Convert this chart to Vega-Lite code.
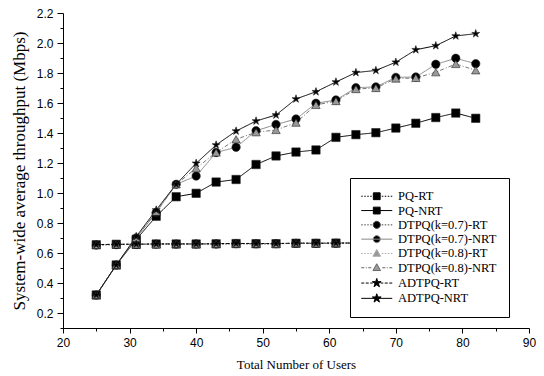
{
  "$schema": "https://vega.github.io/schema/vega-lite/v6.json",
  "width": 466,
  "height": 315,
  "autosize": {"type": "none"},
  "padding": {"left": 63, "top": 13, "right": 15, "bottom": 48},
  "background": "white",
  "config": {
    "view": {"stroke": null},
    "axis": {"grid": false, "domainColor": "#000", "tickColor": "#000", "labelColor": "#000", "titleColor": "#000", "labelFont": "Liberation Sans", "labelFontSize": 12, "titleFont": "Liberation Serif", "titleFontWeight": "normal", "domainWidth": 1, "tickWidth": 1}
  },
  "data": {"values": [
    {"s":"PQ-RT","x":25,"y":0.655},{"s":"PQ-RT","x":28,"y":0.658},{"s":"PQ-RT","x":31,"y":0.658},{"s":"PQ-RT","x":34,"y":0.66},{"s":"PQ-RT","x":37,"y":0.66},{"s":"PQ-RT","x":40,"y":0.66},{"s":"PQ-RT","x":43,"y":0.661},{"s":"PQ-RT","x":46,"y":0.663},{"s":"PQ-RT","x":49,"y":0.662},{"s":"PQ-RT","x":52,"y":0.662},{"s":"PQ-RT","x":55,"y":0.665},{"s":"PQ-RT","x":58,"y":0.665},{"s":"PQ-RT","x":61,"y":0.666},{"s":"PQ-RT","x":64,"y":0.666},{"s":"PQ-RT","x":67,"y":0.667},{"s":"PQ-RT","x":70,"y":0.667},{"s":"PQ-RT","x":73,"y":0.668},{"s":"PQ-RT","x":76,"y":0.668},{"s":"PQ-RT","x":79,"y":0.669},{"s":"PQ-RT","x":82,"y":0.669},
    {"s":"PQ-NRT","x":25,"y":0.32},{"s":"PQ-NRT","x":28,"y":0.52},{"s":"PQ-NRT","x":31,"y":0.69},{"s":"PQ-NRT","x":34,"y":0.845},{"s":"PQ-NRT","x":37,"y":0.975},{"s":"PQ-NRT","x":40,"y":0.998},{"s":"PQ-NRT","x":43,"y":1.073},{"s":"PQ-NRT","x":46,"y":1.09},{"s":"PQ-NRT","x":49,"y":1.19},{"s":"PQ-NRT","x":52,"y":1.247},{"s":"PQ-NRT","x":55,"y":1.273},{"s":"PQ-NRT","x":58,"y":1.287},{"s":"PQ-NRT","x":61,"y":1.371},{"s":"PQ-NRT","x":64,"y":1.389},{"s":"PQ-NRT","x":67,"y":1.402},{"s":"PQ-NRT","x":70,"y":1.433},{"s":"PQ-NRT","x":73,"y":1.465},{"s":"PQ-NRT","x":76,"y":1.503},{"s":"PQ-NRT","x":79,"y":1.533},{"s":"PQ-NRT","x":82,"y":1.498},
    {"s":"DTPQ(k=0.7)-RT","x":25,"y":0.653},{"s":"DTPQ(k=0.7)-RT","x":28,"y":0.656},{"s":"DTPQ(k=0.7)-RT","x":31,"y":0.657},{"s":"DTPQ(k=0.7)-RT","x":34,"y":0.659},{"s":"DTPQ(k=0.7)-RT","x":37,"y":0.659},{"s":"DTPQ(k=0.7)-RT","x":40,"y":0.66},{"s":"DTPQ(k=0.7)-RT","x":43,"y":0.66},{"s":"DTPQ(k=0.7)-RT","x":46,"y":0.662},{"s":"DTPQ(k=0.7)-RT","x":49,"y":0.661},{"s":"DTPQ(k=0.7)-RT","x":52,"y":0.662},{"s":"DTPQ(k=0.7)-RT","x":55,"y":0.664},{"s":"DTPQ(k=0.7)-RT","x":58,"y":0.664},{"s":"DTPQ(k=0.7)-RT","x":61,"y":0.665},{"s":"DTPQ(k=0.7)-RT","x":64,"y":0.665},{"s":"DTPQ(k=0.7)-RT","x":67,"y":0.666},{"s":"DTPQ(k=0.7)-RT","x":70,"y":0.666},{"s":"DTPQ(k=0.7)-RT","x":73,"y":0.667},{"s":"DTPQ(k=0.7)-RT","x":76,"y":0.667},{"s":"DTPQ(k=0.7)-RT","x":79,"y":0.668},{"s":"DTPQ(k=0.7)-RT","x":82,"y":0.668},
    {"s":"DTPQ(k=0.7)-NRT","x":25,"y":0.32},{"s":"DTPQ(k=0.7)-NRT","x":28,"y":0.52},{"s":"DTPQ(k=0.7)-NRT","x":31,"y":0.70},{"s":"DTPQ(k=0.7)-NRT","x":34,"y":0.87},{"s":"DTPQ(k=0.7)-NRT","x":37,"y":1.058},{"s":"DTPQ(k=0.7)-NRT","x":40,"y":1.113},{"s":"DTPQ(k=0.7)-NRT","x":43,"y":1.27},{"s":"DTPQ(k=0.7)-NRT","x":46,"y":1.305},{"s":"DTPQ(k=0.7)-NRT","x":49,"y":1.415},{"s":"DTPQ(k=0.7)-NRT","x":52,"y":1.457},{"s":"DTPQ(k=0.7)-NRT","x":55,"y":1.493},{"s":"DTPQ(k=0.7)-NRT","x":58,"y":1.598},{"s":"DTPQ(k=0.7)-NRT","x":61,"y":1.62},{"s":"DTPQ(k=0.7)-NRT","x":64,"y":1.702},{"s":"DTPQ(k=0.7)-NRT","x":67,"y":1.707},{"s":"DTPQ(k=0.7)-NRT","x":70,"y":1.771},{"s":"DTPQ(k=0.7)-NRT","x":73,"y":1.773},{"s":"DTPQ(k=0.7)-NRT","x":76,"y":1.858},{"s":"DTPQ(k=0.7)-NRT","x":79,"y":1.898},{"s":"DTPQ(k=0.7)-NRT","x":82,"y":1.862},
    {"s":"DTPQ(k=0.8)-RT","x":25,"y":0.654},{"s":"DTPQ(k=0.8)-RT","x":28,"y":0.657},{"s":"DTPQ(k=0.8)-RT","x":31,"y":0.657},{"s":"DTPQ(k=0.8)-RT","x":34,"y":0.658},{"s":"DTPQ(k=0.8)-RT","x":37,"y":0.66},{"s":"DTPQ(k=0.8)-RT","x":40,"y":0.659},{"s":"DTPQ(k=0.8)-RT","x":43,"y":0.661},{"s":"DTPQ(k=0.8)-RT","x":46,"y":0.663},{"s":"DTPQ(k=0.8)-RT","x":49,"y":0.662},{"s":"DTPQ(k=0.8)-RT","x":52,"y":0.661},{"s":"DTPQ(k=0.8)-RT","x":55,"y":0.665},{"s":"DTPQ(k=0.8)-RT","x":58,"y":0.664},{"s":"DTPQ(k=0.8)-RT","x":61,"y":0.665},{"s":"DTPQ(k=0.8)-RT","x":64,"y":0.666},{"s":"DTPQ(k=0.8)-RT","x":67,"y":0.666},{"s":"DTPQ(k=0.8)-RT","x":70,"y":0.667},{"s":"DTPQ(k=0.8)-RT","x":73,"y":0.667},{"s":"DTPQ(k=0.8)-RT","x":76,"y":0.668},{"s":"DTPQ(k=0.8)-RT","x":79,"y":0.668},{"s":"DTPQ(k=0.8)-RT","x":82,"y":0.669},
    {"s":"DTPQ(k=0.8)-NRT","x":25,"y":0.32},{"s":"DTPQ(k=0.8)-NRT","x":28,"y":0.52},{"s":"DTPQ(k=0.8)-NRT","x":31,"y":0.70},{"s":"DTPQ(k=0.8)-NRT","x":34,"y":0.875},{"s":"DTPQ(k=0.8)-NRT","x":37,"y":1.058},{"s":"DTPQ(k=0.8)-NRT","x":40,"y":1.165},{"s":"DTPQ(k=0.8)-NRT","x":43,"y":1.27},{"s":"DTPQ(k=0.8)-NRT","x":46,"y":1.358},{"s":"DTPQ(k=0.8)-NRT","x":49,"y":1.405},{"s":"DTPQ(k=0.8)-NRT","x":52,"y":1.42},{"s":"DTPQ(k=0.8)-NRT","x":55,"y":1.469},{"s":"DTPQ(k=0.8)-NRT","x":58,"y":1.587},{"s":"DTPQ(k=0.8)-NRT","x":61,"y":1.613},{"s":"DTPQ(k=0.8)-NRT","x":64,"y":1.693},{"s":"DTPQ(k=0.8)-NRT","x":67,"y":1.70},{"s":"DTPQ(k=0.8)-NRT","x":70,"y":1.763},{"s":"DTPQ(k=0.8)-NRT","x":73,"y":1.767},{"s":"DTPQ(k=0.8)-NRT","x":76,"y":1.805},{"s":"DTPQ(k=0.8)-NRT","x":79,"y":1.86},{"s":"DTPQ(k=0.8)-NRT","x":82,"y":1.818},
    {"s":"ADTPQ-RT","x":25,"y":0.656},{"s":"ADTPQ-RT","x":28,"y":0.658},{"s":"ADTPQ-RT","x":31,"y":0.659},{"s":"ADTPQ-RT","x":34,"y":0.66},{"s":"ADTPQ-RT","x":37,"y":0.661},{"s":"ADTPQ-RT","x":40,"y":0.66},{"s":"ADTPQ-RT","x":43,"y":0.662},{"s":"ADTPQ-RT","x":46,"y":0.664},{"s":"ADTPQ-RT","x":49,"y":0.663},{"s":"ADTPQ-RT","x":52,"y":0.663},{"s":"ADTPQ-RT","x":55,"y":0.666},{"s":"ADTPQ-RT","x":58,"y":0.665},{"s":"ADTPQ-RT","x":61,"y":0.666},{"s":"ADTPQ-RT","x":64,"y":0.667},{"s":"ADTPQ-RT","x":67,"y":0.667},{"s":"ADTPQ-RT","x":70,"y":0.668},{"s":"ADTPQ-RT","x":73,"y":0.668},{"s":"ADTPQ-RT","x":76,"y":0.669},{"s":"ADTPQ-RT","x":79,"y":0.669},{"s":"ADTPQ-RT","x":82,"y":0.67},
    {"s":"ADTPQ-NRT","x":25,"y":0.32},{"s":"ADTPQ-NRT","x":28,"y":0.52},{"s":"ADTPQ-NRT","x":31,"y":0.71},{"s":"ADTPQ-NRT","x":34,"y":0.887},{"s":"ADTPQ-NRT","x":37,"y":1.058},{"s":"ADTPQ-NRT","x":40,"y":1.198},{"s":"ADTPQ-NRT","x":43,"y":1.32},{"s":"ADTPQ-NRT","x":46,"y":1.413},{"s":"ADTPQ-NRT","x":49,"y":1.48},{"s":"ADTPQ-NRT","x":52,"y":1.52},{"s":"ADTPQ-NRT","x":55,"y":1.627},{"s":"ADTPQ-NRT","x":58,"y":1.675},{"s":"ADTPQ-NRT","x":61,"y":1.74},{"s":"ADTPQ-NRT","x":64,"y":1.803},{"s":"ADTPQ-NRT","x":67,"y":1.817},{"s":"ADTPQ-NRT","x":70,"y":1.872},{"s":"ADTPQ-NRT","x":73,"y":1.955},{"s":"ADTPQ-NRT","x":76,"y":1.982},{"s":"ADTPQ-NRT","x":79,"y":2.047},{"s":"ADTPQ-NRT","x":82,"y":2.062}
  ]},
  "encoding": {
    "x": {"field": "x", "type": "quantitative", "title": "Total Number of Users",
      "scale": {"domain": [20, 90], "nice": false, "zero": false},
      "axis": {"values": [20,25,30,35,40,45,50,55,60,65,70,75,80,85,90], "labelExpr": "datum.value % 10 == 0 ? format(datum.value, 'd') : ''", "tickSize": {"condition": {"test": "datum.value % 10 == 5", "value": 3}, "value": 5}, "labelPadding": 4, "titleFontSize": 13, "titlePadding": 10, "labelFlush": false, "labelOverlap": false}},
    "y": {"field": "y", "type": "quantitative", "title": "System-wide average throughput (Mbps)",
      "scale": {"domain": [0.1, 2.2], "nice": false, "zero": false},
      "axis": {"values": [0.1,0.2,0.3,0.4,0.5,0.6,0.7,0.8,0.9,1.0,1.1,1.2,1.3,1.4,1.5,1.6,1.7,1.8,1.9,2.0,2.1,2.2], "labelExpr": "round(datum.value*10) % 2 == 0 ? format(datum.value, '.1f') : ''", "tickSize": {"condition": {"test": "round(datum.value*10) % 2 == 1", "value": 3}, "value": 6}, "labelPadding": 4, "titleFontSize": 17, "titlePadding": 8, "labelFlush": false, "labelOverlap": false}}
  },
  "resolve": {"scale": {"shape": "independent", "fill": "independent", "stroke": "independent", "size": "independent", "strokeDash": "independent"}},
  "layer": [
    {
      "mark": {"type": "line", "strokeWidth": 1},
      "encoding": {
        "stroke": {"field": "s", "type": "nominal", "legend": null,
          "scale": {"domain": ["ADTPQ-NRT","ADTPQ-RT","DTPQ(k=0.8)-NRT","DTPQ(k=0.8)-RT","DTPQ(k=0.7)-NRT","DTPQ(k=0.7)-RT","PQ-NRT","PQ-RT"],
                    "range": ["#000000","#000000","#777777","#aaaaaa","#888888","#444444","#000000","#000000"]}},
        "strokeDash": {"field": "s", "type": "nominal", "legend": null,
          "scale": {"domain": ["ADTPQ-NRT","ADTPQ-RT","DTPQ(k=0.8)-NRT","DTPQ(k=0.8)-RT","DTPQ(k=0.7)-NRT","DTPQ(k=0.7)-RT","PQ-NRT","PQ-RT"],
                    "range": [[1,0],[3,2],[4,2,1,2],[1,2],[1,0],[1.5,1.5],[1,0],[1.5,1.5]]}}
      }
    },
    {
      "mark": {"type": "point", "filled": true, "opacity": 1, "stroke": "#222222", "strokeWidth": 0.6},
      "encoding": {
        "shape": {"field": "s", "type": "nominal", "legend": null,
          "scale": {"domain": ["ADTPQ-NRT","ADTPQ-RT","DTPQ(k=0.8)-NRT","DTPQ(k=0.8)-RT","DTPQ(k=0.7)-NRT","DTPQ(k=0.7)-RT","PQ-NRT","PQ-RT"],
                    "range": ["M0,-1L0.2245,-0.309L0.9511,-0.309L0.3633,0.118L0.5878,0.809L0,0.382L-0.5878,0.809L-0.3633,0.118L-0.9511,-0.309L-0.2245,-0.309Z","M0,-1L0.2245,-0.309L0.9511,-0.309L0.3633,0.118L0.5878,0.809L0,0.382L-0.5878,0.809L-0.3633,0.118L-0.9511,-0.309L-0.2245,-0.309Z","triangle-up","triangle-up","circle","circle","square","square"]}},
        "size": {"field": "s", "type": "nominal", "legend": null,
          "scale": {"domain": ["ADTPQ-NRT","ADTPQ-RT","DTPQ(k=0.8)-NRT","DTPQ(k=0.8)-RT","DTPQ(k=0.7)-NRT","DTPQ(k=0.7)-RT","PQ-NRT","PQ-RT"],
                    "range": [70,70,45,45,42,42,40,40]}},
        "fill": {"field": "s", "type": "nominal", "legend": null,
          "scale": {"domain": ["ADTPQ-NRT","ADTPQ-RT","DTPQ(k=0.8)-NRT","DTPQ(k=0.8)-RT","DTPQ(k=0.7)-NRT","DTPQ(k=0.7)-RT","PQ-NRT","PQ-RT"],
                    "range": ["#000000","#000000","#999999","#999999","#000000","#000000","#000000","#000000"]}}
      }
    },
    {
      "transform": [{"filter": "datum.x > 1000"}],
      "mark": {"type": "point", "filled": true, "opacity": 1, "strokeWidth": 1},
      "encoding": {
        "shape": {"field": "s", "type": "nominal",
          "scale": {"domain": ["PQ-RT","PQ-NRT","DTPQ(k=0.7)-RT","DTPQ(k=0.7)-NRT","DTPQ(k=0.8)-RT","DTPQ(k=0.8)-NRT","ADTPQ-RT","ADTPQ-NRT"],
                    "range": ["M-3.875,0L-3.5,0M-3.125,0L-2.75,0M-2.375,0L-2,0M-1.625,0L-1.25,0M1.25,0L1.625,0M2,0L2.375,0M2.75,0L3.125,0M3.5,0L3.875,0M-0.85,-0.85L0.85,-0.85L0.85,0.85L-0.85,0.85Z", "M-3.875,0L3.875,0M-0.85,-0.85L0.85,-0.85L0.85,0.85L-0.85,0.85Z", "M-3.875,0L-3.5,0M-3.125,0L-2.75,0M-2.375,0L-2,0M-1.625,0L-1.25,0M1.25,0L1.625,0M2,0L2.375,0M2.75,0L3.125,0M3.5,0L3.875,0M0.9,0L0.779,0.45L0.45,0.779L0,0.9L-0.45,0.779L-0.779,0.45L-0.9,0L-0.779,-0.45L-0.45,-0.779L0,-0.9L0.45,-0.779L0.779,-0.45Z", "M-3.875,0L3.875,0M0.9,0L0.779,0.45L0.45,0.779L0,0.9L-0.45,0.779L-0.779,0.45L-0.9,0L-0.779,-0.45L-0.45,-0.779L0,-0.9L0.45,-0.779L0.779,-0.45Z", "M-3.875,0L-3.5,0M-3.125,0L-2.75,0M-2.375,0L-2,0M-1.625,0L-1.25,0M1.25,0L1.625,0M2,0L2.375,0M2.75,0L3.125,0M3.5,0L3.875,0M0,-1L0.95,0.7L-0.95,0.7Z", "M-3.875,0L-3.125,0M-2.75,0L-2.5,0M-2.125,0L-1.375,0M1.375,0L2.125,0M2.5,0L2.75,0M3.125,0L3.875,0M0,-1L0.95,0.7L-0.95,0.7Z", "M-3.875,0L-3.125,0M-2.75,0L-2,0M-1.625,0L-1,0M1,0L1.625,0M2,0L2.75,0M3.125,0L3.875,0M0,-1.15L0.258,-0.355L1.094,-0.355L0.418,0.136L0.676,0.93L0,0.439L-0.676,0.93L-0.418,0.136L-1.094,-0.355L-0.258,-0.355Z", "M-3.875,0L3.875,0M0,-1.15L0.258,-0.355L1.094,-0.355L0.418,0.136L0.676,0.93L0,0.439L-0.676,0.93L-0.418,0.136L-1.094,-0.355L-0.258,-0.355Z"]},
          "legend": {
            "title": null, "orient": "none", "legendX": 287, "legendY": 165,
            "strokeColor": "#000000", "fillColor": "#ffffff", "padding": 12,
            "symbolSize": 64, "symbolStrokeWidth": 1, "symbolOffset": 8.5, "labelOffset": 15, "rowPadding": 1.3,
            "labelFont": "Liberation Serif", "labelFontSize": 12.5, "labelColor": "#000000", "labelLimit": 300
          }},
        "fill": {"field": "s", "type": "nominal",
          "scale": {"domain": ["PQ-RT","PQ-NRT","DTPQ(k=0.7)-RT","DTPQ(k=0.7)-NRT","DTPQ(k=0.8)-RT","DTPQ(k=0.8)-NRT","ADTPQ-RT","ADTPQ-NRT"],
                    "range": ["#000000","#000000","#000000","#000000","#999999","#999999","#000000","#000000"]},
          "legend": {
            "title": null, "orient": "none", "legendX": 287, "legendY": 165,
            "strokeColor": "#000000", "fillColor": "#ffffff", "padding": 12,
            "symbolSize": 64, "symbolStrokeWidth": 1, "symbolOffset": 8.5, "labelOffset": 15, "rowPadding": 1.3,
            "labelFont": "Liberation Serif", "labelFontSize": 12.5, "labelColor": "#000000", "labelLimit": 300
          }},
        "stroke": {"field": "s", "type": "nominal",
          "scale": {"domain": ["PQ-RT","PQ-NRT","DTPQ(k=0.7)-RT","DTPQ(k=0.7)-NRT","DTPQ(k=0.8)-RT","DTPQ(k=0.8)-NRT","ADTPQ-RT","ADTPQ-NRT"],
                    "range": ["#000000","#000000","#444444","#888888","#aaaaaa","#666666","#000000","#000000"]},
          "legend": {
            "title": null, "orient": "none", "legendX": 287, "legendY": 165,
            "strokeColor": "#000000", "fillColor": "#ffffff", "padding": 12,
            "symbolSize": 64, "symbolStrokeWidth": 1, "symbolOffset": 8.5, "labelOffset": 15, "rowPadding": 1.3,
            "labelFont": "Liberation Serif", "labelFontSize": 12.5, "labelColor": "#000000", "labelLimit": 300
          }}
      }
    }
  ]
}
